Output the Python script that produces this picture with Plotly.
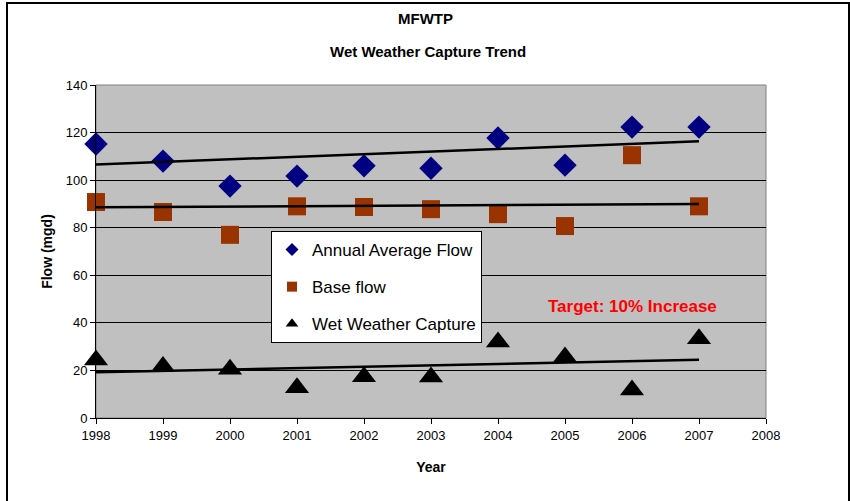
import plotly.graph_objects as go

years = [1998, 1999, 2000, 2001, 2002, 2003, 2004, 2005, 2006, 2007]
annual_avg_flow = [115.2, 108.0, 97.5, 101.7, 106.0, 105.0, 117.7, 106.3, 122.3, 122.3]
base_flow = [90.8, 86.6, 77.0, 89.0, 88.7, 87.8, 85.7, 80.7, 110.5, 89.0]
wet_weather_capture = [24.4, 21.6, 20.5, 12.7, 17.3, 17.2, 32.0, 25.6, 11.8, 33.3]

trend_years = [1998, 2007]
trend_aaf = [106.6, 116.3]
trend_base = [88.6, 90.0]
trend_wwc = [19.2, 24.5]

x_ticks = list(range(1998, 2009))
y_ticks = list(range(0, 141, 20))

series_names = ["Annual Average Flow", "Base flow", "Wet Weather Capture"]
series_symbols = ["diamond", "square", "triangle-up"]
series_colors = ["#000080", "#993300", "#000000"]
series_sizes = [18, 18, 21]
legend_sizes = [10, 10, 11]

FONT = "Liberation Sans, Arial, sans-serif"

fig = go.Figure()

for vals, name, sym, col, sz in zip([annual_avg_flow, base_flow, wet_weather_capture],
                                    series_names, series_symbols, series_colors, series_sizes):
    fig.add_trace(go.Scatter(x=years, y=vals, mode="markers", name=name, showlegend=False,
                             cliponaxis=False,
                             marker=dict(symbol=sym, size=sz, color=col, line=dict(width=0))))

for ty in (trend_aaf, trend_base, trend_wwc):
    fig.add_trace(go.Scatter(x=trend_years, y=ty, mode="lines", showlegend=False,
                             line=dict(color="black", width=2.5), hoverinfo="skip"))

# legend entries (small symbols as in the original legend)
for i, (name, sym, col, lsz) in enumerate(zip(series_names, series_symbols, series_colors, legend_sizes)):
    fig.add_trace(go.Scatter(x=[None], y=[None], mode="markers", name=name,
                             legendgroup=f"g{i}",
                             marker=dict(symbol=sym, size=lsz, color=col, line=dict(width=0))))

L, R, T, B = 96, 84, 85, 83
W, H = 850, 501
pw, ph = W - L - R, H - T - B

def px_x(p):
    return (p - L) / pw

def px_y(p):
    return (H - B - p) / ph

fig.update_layout(
    width=W, height=H,
    margin=dict(l=L, r=R, t=T, b=B),
    paper_bgcolor="white",
    plot_bgcolor="#C0C0C0",
    font=dict(family=FONT, size=13, color="black"),
    showlegend=True,
    legend=dict(
        x=px_x(271), y=px_y(231), xanchor="left", yanchor="top",
        bgcolor="white", bordercolor="black", borderwidth=1,
        font=dict(family=FONT, size=17, color="black"),
        traceorder="grouped", tracegroupgap=12,
        itemsizing="trace", itemwidth=30,
    ),
    xaxis=dict(
        range=[1998, 2008], tickmode="array", tickvals=x_ticks,
        ticktext=[str(t) for t in x_ticks],
        showgrid=False, zeroline=False,
        showline=True, linecolor="black", linewidth=1,
        ticks="outside", ticklen=5, tickcolor="black",
        tickfont=dict(family=FONT, size=13),
        title=dict(text="<b>Year</b>", font=dict(family=FONT, size=14), standoff=20),
    ),
    yaxis=dict(
        range=[0, 140], tickmode="array", tickvals=y_ticks,
        showgrid=True, gridcolor="black", gridwidth=1,
        zeroline=False,
        showline=True, linecolor="black", linewidth=1,
        ticks="outside", ticklen=5, tickcolor="black",
        tickfont=dict(family=FONT, size=13),
        title=dict(text="<b>Flow (mgd)</b>", font=dict(family=FONT, size=14), standoff=9),
    ),
)

# plot-area border (gray)
fig.add_shape(type="rect", xref="paper", yref="paper", x0=0, y0=0, x1=1, y1=1,
              line=dict(color="#808080", width=1), layer="below")

# outer chart frame
fig.add_shape(type="rect", xref="paper", yref="paper",
              x0=px_x(7), x1=px_x(849), y0=px_y(3), y1=px_y(505),
              line=dict(color="black", width=2))

fig.add_annotation(xref="paper", yref="paper", x=px_x(425), y=px_y(18), yanchor="middle",
                   text="<b>MFWTP</b>", showarrow=False,
                   font=dict(family=FONT, size=15, color="black"))
fig.add_annotation(xref="paper", yref="paper", x=px_x(428), y=px_y(51), yanchor="middle",
                   text="<b>Wet Weather Capture Trend</b>", showarrow=False,
                   font=dict(family=FONT, size=15, color="black"))
fig.add_annotation(x=2006.0, y=46.7, xref="x", yref="y",
                   text="<b>Target: 10% Increase</b>", showarrow=False,
                   font=dict(family=FONT, size=17, color="#FF0000"))

fig.write_html("out.html", config={"displayModeBar": False},
               post_script="document.body.style.margin='0';document.body.style.overflow='hidden';")
